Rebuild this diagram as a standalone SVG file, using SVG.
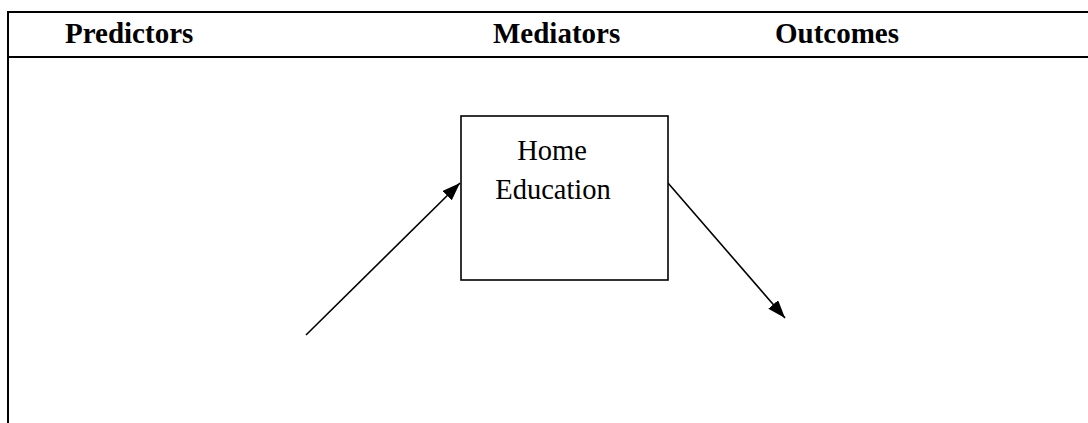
<svg xmlns="http://www.w3.org/2000/svg" width="1088" height="423" viewBox="0 0 1088 423">
<style>
.frame{stroke:#000;stroke-width:2;fill:none}
.head{font-family:"Liberation Serif","Times New Roman",serif;font-weight:bold;font-size:29px;fill:#000}
.lbl{font-family:"Liberation Serif","Times New Roman",serif;font-size:28.5px;fill:#000}
.box{stroke:#000;stroke-width:1.6;fill:#fff}
.conn{stroke:#000;stroke-width:1.6;fill:none;marker-end:url(#arr)}
</style>
<defs>
<marker id="arr" markerUnits="userSpaceOnUse" markerWidth="20" markerHeight="14" refX="18" refY="6.5" orient="auto">
<path d="M0,0 L18,6.5 L0,13 Z" fill="#000"/>
</marker>
</defs>
<rect width="1088" height="423" fill="#fff"/>
<g id="frame">
<line class="frame" x1="8" y1="12" x2="1088" y2="12"/>
<line class="frame" x1="8" y1="57" x2="1088" y2="57"/>
<line class="frame" x1="8" y1="11" x2="8" y2="423"/>
</g>
<g id="headers">
<text class="head" x="65" y="43">Predictors</text>
<text class="head" x="493" y="43">Mediators</text>
<text class="head" x="775" y="43">Outcomes</text>
</g>
<g id="connectors">
<line class="conn" x1="306" y1="335" x2="460" y2="183"/>
<line class="conn" x1="668" y1="183" x2="785" y2="318"/>
</g>
<g id="home-education">
<rect class="box" x="461" y="116" width="207" height="164"/>
<text class="lbl" x="552" y="160" text-anchor="middle">Home</text>
<text class="lbl" x="553" y="199" text-anchor="middle">Education</text>
</g>
</svg>
